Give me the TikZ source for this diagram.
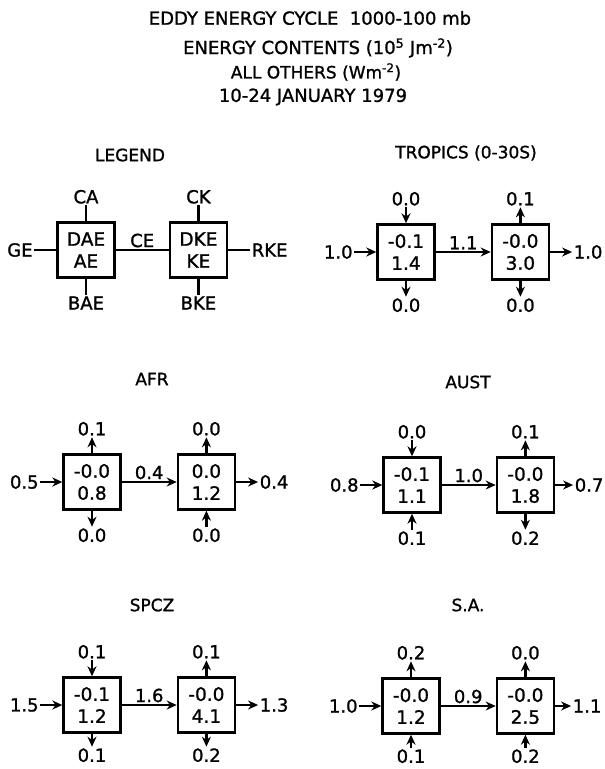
\documentclass[tikz,border=0pt]{standalone}
\usepackage{fontspec}
\setmainfont{DejaVu Sans}[FakeBold=1.2]
\usetikzlibrary{positioning,arrows.meta}

\begin{document}
\begin{tikzpicture}[
        x=1pt, y=-1pt,
        node distance=16pt and 22pt,
        box/.style={draw, line width=2.4pt, minimum width=57pt,
                    minimum height=55pt, inner sep=1pt, align=center,
                    font=\fontsize{18.5}{22}\selectfont},
        val/.style={font=\fontsize{18}{20}\selectfont, inner sep=1.5pt},
        ttl/.style={font=\fontsize{17}{20}\selectfont},
        head/.style={font=\fontsize{18}{20}\selectfont},
        arr/.style={-{Stealth[length=10pt,width=9pt]}, line width=2.4pt},
        stub/.style={line width=2.4pt}
    ]
        \useasboundingbox (0,0) rectangle (605,769);

        % heading
        \node[head] (h1) at (310,18) {EDDY ENERGY CYCLE\ \ 1000-100 mb};
        \node[head] (h2) at (318,48) {ENERGY CONTENTS (10\textsuperscript{5} Jm\textsuperscript{-2})};
        \node[head, font=\fontsize{17}{18}\selectfont] (h3) at (316,72) {ALL OTHERS (Wm\textsuperscript{-2})};
        \node[head] (h4) at (313,97) {10-24 JANUARY 1979};

        % legend
        \node[ttl] (legT) at (130,155) {LEGEND};
        \node[box] (legA) at (86,250) {DAE\\AE};
        \node[box, right=53pt of legA] (legK) {DKE\\KE};
        \node[val, above=of legA] (legCA) {CA};
        \node[val, above=of legK] (legCK) {CK};
        \node[val, below=of legA] (legBA) {BAE};
        \node[val, below=of legK] (legBK) {BKE};
        \node[val, left=of legA]  (legGE) {GE};
        \node[val, right=of legK] (legRK) {RKE};
        \draw[stub] (legA) -- (legCA);
        \draw[stub] (legK) -- (legCK);
        \draw[stub] (legA) -- (legBA);
        \draw[stub] (legK) -- (legBK);
        \draw[stub] (legGE) -- (legA);
        \draw[stub] (legK) -- (legRK);
        \draw[stub] (legA) -- node[val, above] (legCE) {CE} (legK);

        % tropics
        \node[ttl] (trT) at (466,153) {TROPICS (0-30S)};
        \node[box] (trA) at (406,252) {-0.1\\1.4};
        \node[box, right=55pt of trA] (trK) {-0.0\\3.0};
        \node[val, above=of trA] (trCA) {0.0};
        \node[val, above=of trK] (trCK) {0.1};
        \node[val, below=of trA] (trBA) {0.0};
        \node[val, below=of trK] (trBK) {0.0};
        \node[val, left=of trA]  (trGE) {1.0};
        \node[val, right=of trK] (trRK) {1.0};
        \draw[arr] (trCA) -- (trA);
        \draw[arr] (trK) -- (trCK);
        \draw[arr] (trA) -- (trBA);
        \draw[arr] (trK) -- (trBK);
        \draw[arr] (trGE) -- (trA);
        \draw[arr] (trK) -- (trRK);
        \draw[arr] (trA) -- node[val, above] (trCE) {1.1} (trK);

        % africa
        \node[ttl] (afT) at (152,379) {AFR};
        \node[box] (afA) at (92,482) {-0.0\\0.8};
        \node[box, right=55pt of afA] (afK) {0.0\\1.2};
        \node[val, above=of afA] (afCA) {0.1};
        \node[val, above=of afK] (afCK) {0.0};
        \node[val, below=of afA] (afBA) {0.0};
        \node[val, below=of afK] (afBK) {0.0};
        \node[val, left=of afA]  (afGE) {0.5};
        \node[val, right=of afK] (afRK) {0.4};
        \draw[arr] (afA) -- (afCA);
        \draw[arr] (afK) -- (afCK);
        \draw[arr] (afA) -- (afBA);
        \draw[arr] (afBK) -- (afK);
        \draw[arr] (afGE) -- (afA);
        \draw[arr] (afK) -- (afRK);
        \draw[arr] (afA) -- node[val, above] (afCE) {0.4} (afK);

        % australia
        \node[ttl] (auT) at (468,382) {AUST};
        \node[box] (auA) at (412,485) {-0.1\\1.1};
        \node[box, right=54pt of auA] (auK) {-0.0\\1.8};
        \node[val, above=of auA] (auCA) {0.0};
        \node[val, above=of auK] (auCK) {0.1};
        \node[val, below=of auA] (auBA) {0.1};
        \node[val, below=of auK] (auBK) {0.2};
        \node[val, left=of auA]  (auGE) {0.8};
        \node[val, right=18pt of auK] (auRK) {0.7};
        \draw[arr] (auCA) -- (auA);
        \draw[arr] (auK) -- (auCK);
        \draw[arr] (auBA) -- (auA);
        \draw[arr] (auK) -- (auBK);
        \draw[arr] (auGE) -- (auA);
        \draw[arr] (auK) -- (auRK);
        \draw[arr] (auA) -- node[val, above] (auCE) {1.0} (auK);

        % spcz
        \node[ttl] (spT) at (152,605) {SPCZ};
        \node[box] (spA) at (92,705) {-0.1\\1.2};
        \node[box, right=55pt of spA] (spK) {-0.0\\4.1};
        \node[val, above=of spA] (spCA) {0.1};
        \node[val, above=of spK] (spCK) {0.1};
        \node[val, below=13pt of spA] (spBA) {0.1};
        \node[val, below=13pt of spK] (spBK) {0.2};
        \node[val, left=of spA]  (spGE) {1.5};
        \node[val, right=of spK] (spRK) {1.3};
        \draw[arr] (spCA) -- (spA);
        \draw[arr] (spK) -- (spCK);
        \draw[arr] (spA) -- (spBA);
        \draw[arr] (spK) -- (spBK);
        \draw[arr] (spGE) -- (spA);
        \draw[arr] (spK) -- (spRK);
        \draw[arr] (spA) -- node[val, above] (spCE) {1.6} (spK);

        % south america
        \node[ttl] (saT) at (468,605) {S.A.};
        \node[box] (saA) at (411,706) {-0.0\\1.2};
        \node[box, right=55pt of saA] (saK) {-0.0\\2.5};
        \node[val, above=of saA] (saCA) {0.2};
        \node[val, above=of saK] (saCK) {0.0};
        \node[val, below=13pt of saA] (saBA) {0.1};
        \node[val, below=13pt of saK] (saBK) {0.2};
        \node[val, left=of saA]  (saGE) {1.0};
        \node[val, right=16pt of saK] (saRK) {1.1};
        \draw[arr] (saA) -- (saCA);
        \draw[arr] (saK) -- (saCK);
        \draw[arr] (saBA) -- (saA);
        \draw[arr] (saBK) -- (saK);
        \draw[arr] (saGE) -- (saA);
        \draw[arr] (saK) -- (saRK);
        \draw[arr] (saA) -- node[val, above] (saCE) {0.9} (saK);
    \end{tikzpicture}
\end{document}
